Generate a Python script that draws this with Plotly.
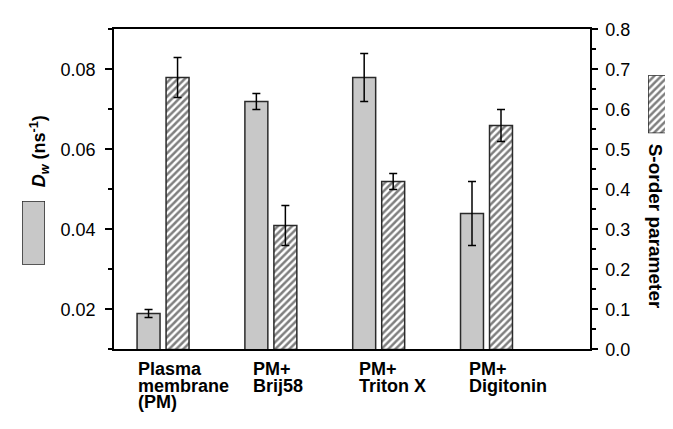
import plotly.graph_objects as go

# ---- data ----
categories = ["Plasma membrane (PM)", "PM+ Brij58", "PM+ Triton X", "PM+ Digitonin"]
label_lines = [["Plasma", "membrane", "(PM)"], ["PM+", "Brij58"], ["PM+", "Triton X"], ["PM+", "Digitonin"]]
dw_values = [0.019, 0.072, 0.078, 0.044]
dw_errors = [0.001, 0.002, 0.006, 0.008]
s_values = [0.68, 0.31, 0.42, 0.56]
s_errors = [0.05, 0.05, 0.02, 0.04]
left_ticks = [0.02, 0.04, 0.06, 0.08]
right_ticks = [0.0, 0.1, 0.2, 0.3, 0.4, 0.5, 0.6, 0.7, 0.8]

# the page body adds an 8px margin; size the figure so it fills the window
OFF = 8
W, H = 673 - OFF, 429 - OFF
FONT = "Liberation Sans, Arial, Helvetica, sans-serif"


def fx(p):
    return (p - OFF) / W


def fy(p):
    return (H - (p - OFF)) / H


GRAY = "#c8c8c8"
EDGE = "#2a2a2a"
pattern = dict(shape="/", fgcolor="black", bgcolor="white", size=5, solidity=0.5)

fig = go.Figure()

fig.add_trace(go.Bar(
    x=categories, y=dw_values, width=0.213, offset=-0.241,
    marker=dict(color=GRAY, line=dict(color=EDGE, width=1.5)),
    error_y=dict(type="data", array=dw_errors, color="black", thickness=1.5, width=4),
    xaxis="x", yaxis="y", showlegend=False, hoverinfo="skip",
))
fig.add_trace(go.Bar(
    x=categories, y=s_values, width=0.213, offset=0.028,
    marker=dict(color="white", line=dict(color=EDGE, width=1.5), pattern=pattern),
    error_y=dict(type="data", array=s_errors, color="black", thickness=1.5, width=4),
    xaxis="x", yaxis="y2", showlegend=False, hoverinfo="skip",
))

# legend swatches
fig.add_trace(go.Bar(
    x=[0], y=[1], width=1, xaxis="x3", yaxis="y3", cliponaxis=False,
    marker=dict(color=GRAY, line=dict(color=EDGE, width=1.5)),
    showlegend=False, hoverinfo="skip",
))
fig.add_trace(go.Bar(
    x=[0], y=[1], width=1, xaxis="x4", yaxis="y4", cliponaxis=False,
    marker=dict(color="white", line=dict(color=EDGE, width=1.5), pattern=pattern),
    showlegend=False, hoverinfo="skip",
))

axis_common = dict(showgrid=False, zeroline=False, linecolor="black", linewidth=1.5,
                   tickcolor="black", tickwidth=1.5)

annotations = []
shifts = [-27, -20, -22, -20]
line_y = [377, 394, 411]
for i, lines in enumerate(label_lines):
    for j, t in enumerate(lines):
        annotations.append(dict(
            x=i, xref="x", xanchor="left", xshift=shifts[i],
            y=fy(line_y[j]), yref="paper", yanchor="middle",
            text=f"<b>{t}</b>", showarrow=False,
            font=dict(family=FONT, size=18, color="black"),
        ))

annotations.append(dict(
    x=fx(39), y=fy(148), xref="paper", yref="paper", xanchor="center", yanchor="middle",
    text="<b><i>D</i><sub><i>w</i></sub> (ns<sup>-1</sup>)</b>", textangle=-90, showarrow=False,
    font=dict(family=FONT, size=18, color="black"),
))
annotations.append(dict(
    x=fx(655), y=fy(226), xref="paper", yref="paper", xanchor="center", yanchor="middle",
    text="<b>S-order parameter</b>", textangle=90, showarrow=False,
    font=dict(family=FONT, size=19, color="black"),
))

fig.update_layout(
    width=W, height=H, autosize=False,
    margin=dict(l=0, r=0, t=0, b=0, pad=0),
    paper_bgcolor="white", plot_bgcolor="white",
    barmode="overlay",
    font=dict(family=FONT, size=18, color="black"),
    xaxis=dict(domain=[fx(114), fx(590)], type="category", range=[-0.455, 3.96],
               showticklabels=False, ticks="", showline=True, mirror=True,
               anchor="y", showgrid=False, zeroline=False, linecolor="black", linewidth=1.5),
    yaxis=dict(domain=[fy(356), fy(20)], range=[0.01, 0.09], anchor="x",
               tickmode="array", tickvals=left_ticks, ticktext=[f"{v:.2f}" for v in left_ticks],
               ticks="outside", ticklen=7, showline=True, ticklabelstandoff=6,
               minor=dict(ticks="outside", ticklen=4, tickmode="linear", tick0=0.01, dtick=0.01,
                          tickcolor="black", tickwidth=1.5),
               **axis_common),
    yaxis2=dict(overlaying="y", side="right", range=[0, 0.8], anchor="x",
                tickmode="array", tickvals=right_ticks, ticktext=[f"{v:.1f}" for v in right_ticks],
                ticks="outside", ticklen=6, showline=True, ticklabelstandoff=4,
                minor=dict(ticks="outside", ticklen=4, tickmode="linear", tick0=0.05, dtick=0.1,
                           tickcolor="black", tickwidth=1.5),
                **axis_common),
    xaxis3=dict(domain=[fx(22), fx(45)], range=[-0.5, 0.5], visible=False, anchor="y3"),
    yaxis3=dict(domain=[fy(267), fy(200)], range=[0, 1], visible=False, anchor="x3"),
    xaxis4=dict(domain=[fx(648), fx(671)], range=[-0.5, 0.5], visible=False, anchor="y4"),
    yaxis4=dict(domain=[fy(129), fy(68)], range=[0, 1], visible=False, anchor="x4"),
    annotations=annotations,
)

fig.write_html("out.html")
